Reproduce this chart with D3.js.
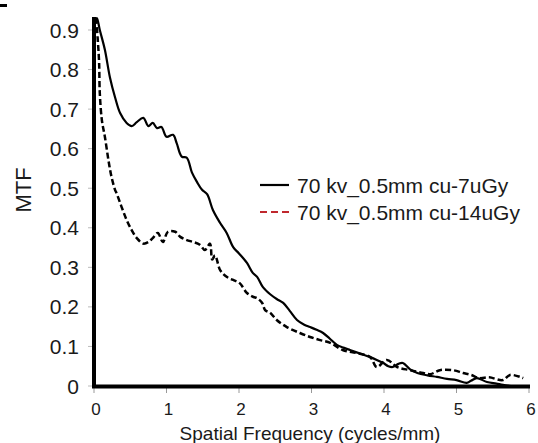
<!DOCTYPE html>
<html>
<head>
<meta charset="utf-8">
<script src="https://cdn.jsdelivr.net/npm/d3@7"></script>
<style>
  body { margin: 0; background: #fff; }
  svg { display: block; font-family: "Liberation Sans", Arial, sans-serif; }
</style>
</head>
<body>
<svg id="chart" width="538" height="443"></svg>
<script>
// values
const xTicks = [0, 1, 2, 3, 4, 5, 6];
const yTicks = [0, 0.1, 0.2, 0.3, 0.4, 0.5, 0.6, 0.7, 0.8, 0.9];
const seriesNames = ["70 kv_0.5mm cu-7uGy", "70 kv_0.5mm cu-14uGy"];

const freq7 = [0.02, 0.04, 0.08, 0.15, 0.22, 0.29, 0.36, 0.45, 0.52, 0.59, 0.68, 0.75, 0.81, 0.87, 0.93,
  1.0, 1.09, 1.14, 1.21, 1.28, 1.35, 1.42, 1.49, 1.56, 1.64, 1.74, 1.83, 1.92, 2.0, 2.11, 2.19, 2.25,
  2.33, 2.43, 2.52, 2.61, 2.7, 2.8, 2.9, 2.98, 3.07, 3.16, 3.25, 3.35, 3.44, 3.53, 3.67, 3.81, 3.9,
  3.99, 4.06, 4.12, 4.2, 4.26, 4.36, 4.46, 4.6, 4.73, 4.87, 5.0, 5.14, 5.2, 5.28, 5.42, 5.55, 5.64, 5.75];
const mtf7 = [0.92, 0.93, 0.9, 0.85, 0.78, 0.73, 0.69, 0.665, 0.657, 0.667, 0.678, 0.657, 0.665, 0.652, 0.655,
  0.63, 0.635, 0.614, 0.58, 0.577, 0.54, 0.516, 0.496, 0.485, 0.445, 0.412, 0.387, 0.351, 0.335, 0.311, 0.286, 0.276,
  0.25, 0.232, 0.22, 0.21, 0.19, 0.167, 0.155, 0.149, 0.142, 0.134, 0.12, 0.104, 0.097, 0.091, 0.082, 0.073, 0.066,
  0.058, 0.05, 0.048, 0.056, 0.058, 0.042, 0.033, 0.027, 0.023, 0.018, 0.015, 0.008, 0.013, 0.02, 0.01, 0.006, 0.003, 0.0];

const freq14 = [0.03, 0.05, 0.07, 0.08, 0.11, 0.15, 0.2, 0.24, 0.29, 0.31, 0.38, 0.45, 0.52, 0.59, 0.68, 0.75,
  0.81, 0.88, 0.95, 1.02, 1.12, 1.19, 1.28, 1.37, 1.46, 1.53, 1.6, 1.63, 1.67, 1.74, 1.83, 1.92, 2.01, 2.11,
  2.2, 2.25, 2.32, 2.36, 2.43, 2.52, 2.66, 2.84, 2.98, 3.12, 3.26, 3.43, 3.63, 3.81, 3.9, 4.04, 4.18, 4.36,
  4.54, 4.64, 4.77, 4.95, 5.09, 5.2, 5.32, 5.45, 5.64, 5.74, 5.92];
const mtf14 = [0.93, 0.88, 0.82, 0.74, 0.67, 0.63, 0.57, 0.53, 0.496, 0.488, 0.453, 0.42, 0.394, 0.374, 0.36, 0.364,
  0.374, 0.387, 0.364, 0.39, 0.39, 0.377, 0.369, 0.364, 0.357, 0.344, 0.36, 0.32, 0.33, 0.293, 0.276, 0.268, 0.26, 0.235,
  0.225, 0.222, 0.21, 0.192, 0.185, 0.167, 0.149, 0.134, 0.124, 0.116, 0.109, 0.091, 0.083, 0.073, 0.048, 0.066, 0.048, 0.04,
  0.033, 0.03, 0.04, 0.04, 0.033, 0.028, 0.02, 0.022, 0.015, 0.028, 0.02];

const svg = d3.select("#chart");
const x = d3.scaleLinear().domain([0, 6]).range([94, 529]);
const y = d3.scaleLinear().domain([0, 0.9]).range([386, 30]);

// little dash in the top-left corner of the scan
svg.append("line").attr("x1", 0).attr("x2", 7).attr("y1", 5.5).attr("y2", 5.5)
  .attr("stroke", "#000").attr("stroke-width", 3);

// tick marks
svg.append("g").selectAll("line").data(yTicks).join("line")
  .attr("x1", 88).attr("x2", 92)
  .attr("y1", d => y(d)).attr("y2", d => y(d))
  .attr("stroke", "#bbb").attr("stroke-width", 1);
svg.append("g").selectAll("line").data(xTicks).join("line")
  .attr("x1", d => x(d)).attr("x2", d => x(d))
  .attr("y1", 388).attr("y2", 393)
  .attr("stroke", "#999").attr("stroke-width", 1);

// tick labels
svg.append("g").selectAll("text").data(yTicks).join("text")
  .attr("x", 79).attr("y", d => y(d)).attr("dy", "0.36em")
  .attr("text-anchor", "end").attr("font-size", 21).attr("fill", "#1a1a1a")
  .text(d => d === 0 ? "0" : d3.format(".1f")(d));
svg.append("g").selectAll("text").data(xTicks).join("text")
  .attr("x", d => x(d) + 2).attr("y", 415)
  .attr("text-anchor", "middle").attr("font-size", 17).attr("fill", "#1a1a1a")
  .text(d => d);

// axis titles
svg.append("text").attr("transform", "translate(31,190) rotate(-90)")
  .attr("text-anchor", "middle").attr("font-size", 22).attr("fill", "#1a1a1a").text("MTF");
svg.append("text").attr("x", 310).attr("y", 440)
  .attr("text-anchor", "middle").attr("font-size", 19).attr("fill", "#1a1a1a")
  .text("Spatial Frequency (cycles/mm)");

// curves
const line = d3.line().x(d => x(d[0])).y(d => y(d[1])).curve(d3.curveCatmullRom);
svg.append("path").datum(d3.zip(freq7, mtf7))
  .attr("d", line).attr("fill", "none").attr("stroke", "#000").attr("stroke-width", 2.2);
svg.append("path").datum(d3.zip(freq14, mtf14))
  .attr("d", line).attr("fill", "none").attr("stroke", "#000").attr("stroke-width", 2.5)
  .attr("stroke-dasharray", "6,3");

// axes (thick black lines)
svg.append("line").attr("x1", 94).attr("x2", 94).attr("y1", 17).attr("y2", 388)
  .attr("stroke", "#000").attr("stroke-width", 4);
svg.append("line").attr("x1", 92).attr("x2", 530).attr("y1", 386.5).attr("y2", 386.5)
  .attr("stroke", "#000").attr("stroke-width", 4);

// legend
const legend = svg.append("g");
const rows = [
  { name: seriesNames[0], color: "#000", dash: null, y: 185 },
  { name: seriesNames[1], color: "#c0282d", dash: "7,4", y: 212 }
];
rows.forEach(r => {
  legend.append("line").attr("x1", 260).attr("x2", 289).attr("y1", r.y).attr("y2", r.y)
    .attr("stroke", r.color).attr("stroke-width", 2.2).attr("stroke-dasharray", r.dash);
  legend.append("text").attr("x", 297).attr("y", r.y).attr("dy", "0.36em")
    .attr("font-size", 21).attr("fill", "#1a1a1a").text(r.name);
});
</script>
</body>
</html>
